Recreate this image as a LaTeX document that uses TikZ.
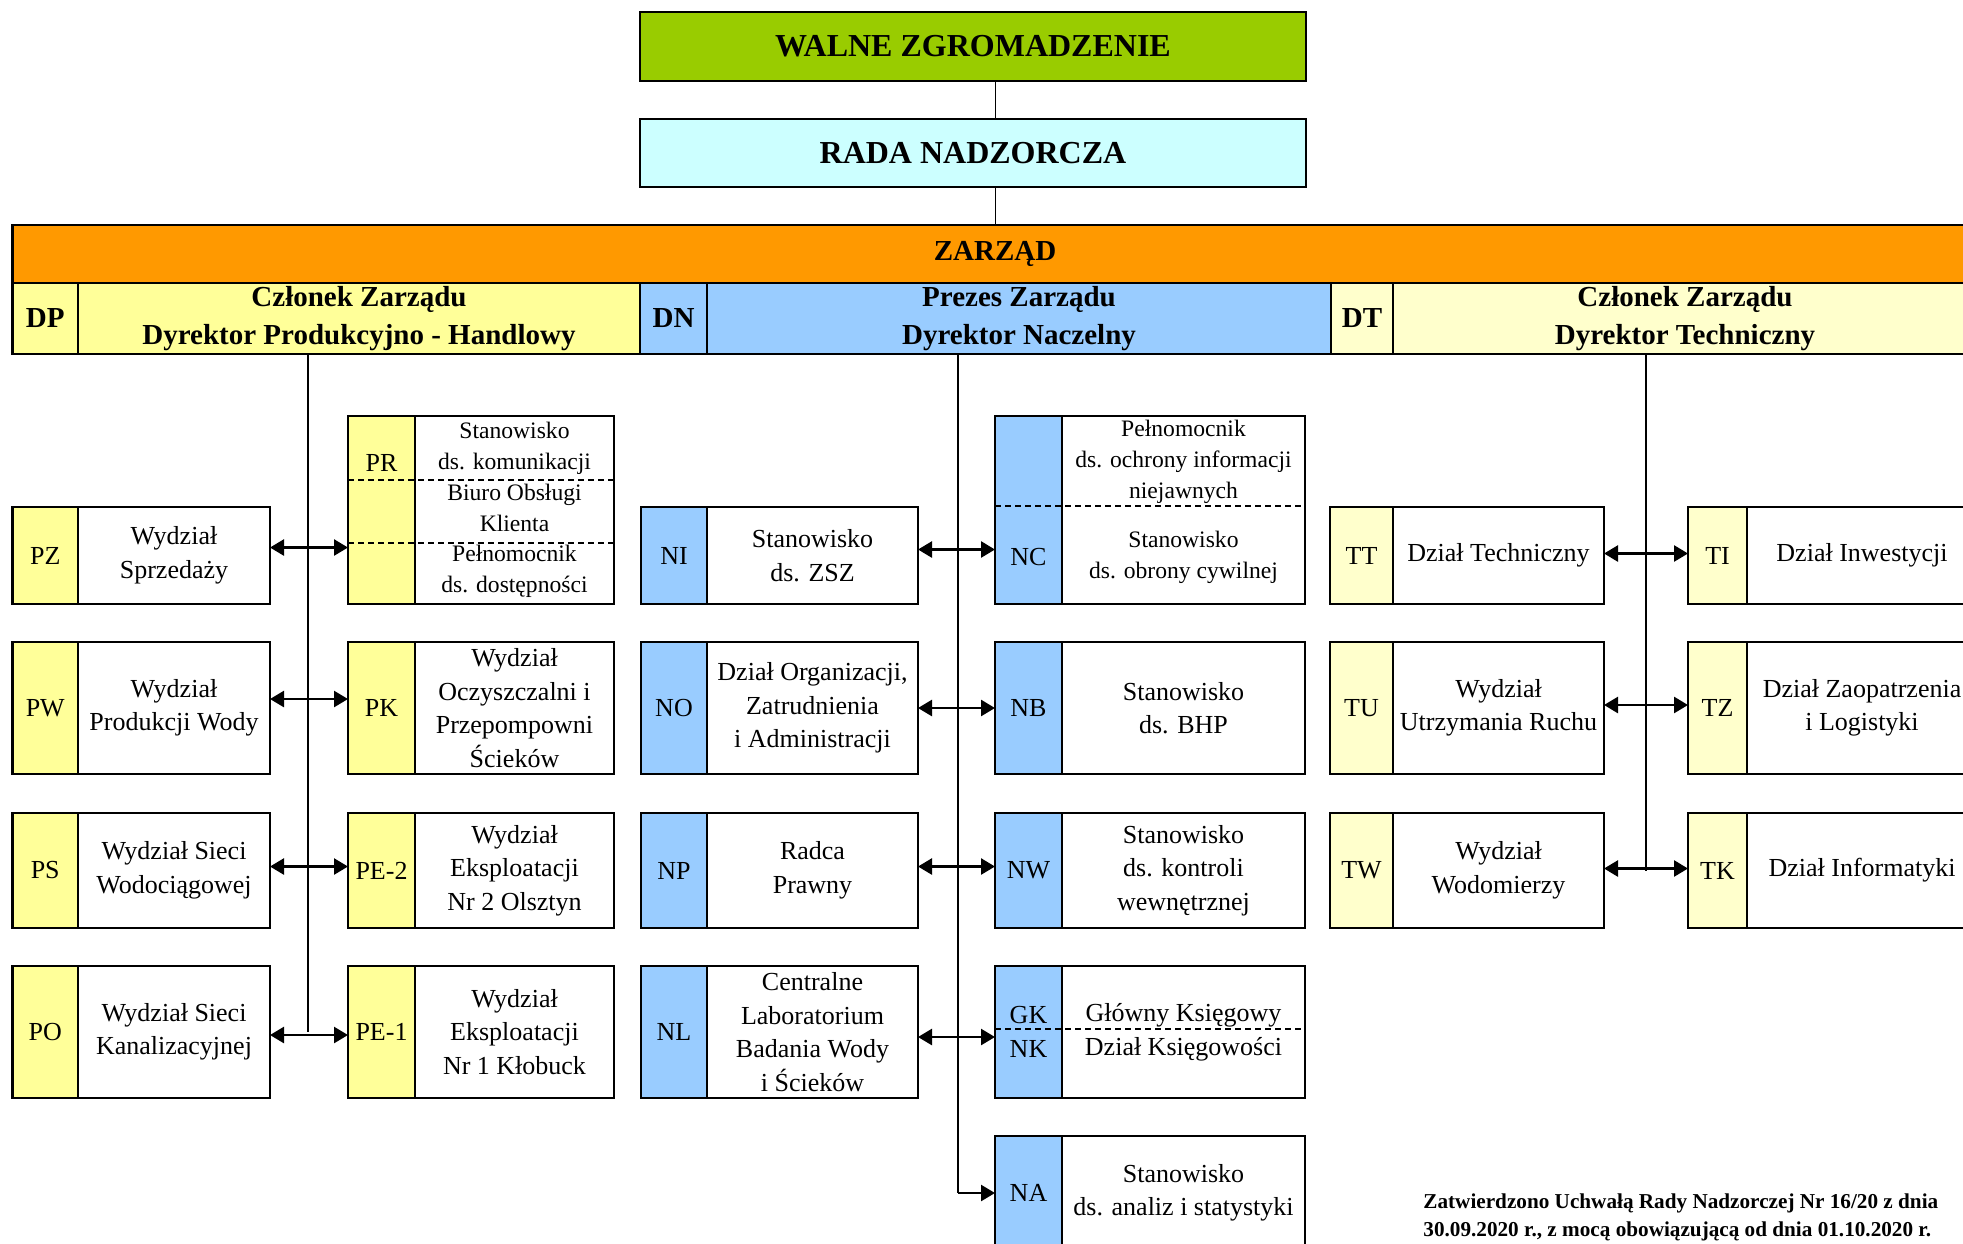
\documentclass[tikz,border=0pt]{standalone}
\usepackage{fontspec}
\setmainfont{Liberation Serif}
\usetikzlibrary{arrows.meta}

\definecolor{greenWZ}{HTML}{99CC00}
\definecolor{cyanRN}{HTML}{CCFFFF}
\definecolor{orangeZ}{HTML}{FF9900}
\definecolor{yellowP}{HTML}{FFFF99}
\definecolor{blueN}{HTML}{99CCFF}
\definecolor{yellowT}{HTML}{FFFFCC}

\begin{document}
\begin{tikzpicture}[x=0.5pt, y=-0.5pt,
    box/.style={draw, line width=1.4pt, inner sep=0pt, outer sep=0pt, anchor=north west, align=center},
    codecell/.style={box, font=\fontsize{13pt}{16.75pt}\selectfont},
    textcell/.style={box, fill=white, font=\fontsize{13pt}{16.75pt}\selectfont},
    smalltext/.style={align=center, inner sep=0pt, font=\fontsize{11.8pt}{15.4pt}\selectfont},
    headcell/.style={box, font=\bfseries\fontsize{14.5pt}{19pt}\selectfont},
    topcell/.style={box, font=\bfseries\fontsize{16pt}{19pt}\selectfont},
    biarrow/.style={{Triangle[length=7pt,width=8pt]}-{Triangle[length=7pt,width=8pt]}, line width=1.3pt},
    arrowto/.style={-{Triangle[length=7pt,width=8pt]}, line width=1.3pt},
    trunkline/.style={line width=0.65pt},
    dashsep/.style={line width=0.8pt, dash pattern=on 3pt off 2pt}]

% ===== Page and units =====
\def\px{0.5pt}       % one pixel of the original
\useasboundingbox (0,0) rectangle (1963,1243);
\clip (0,0) rectangle (1963,1243);

% ===== Governing bodies =====
\node[topcell, fill=greenWZ, minimum width=666*\px, minimum height=69*\px] (WZ) at (640,12) {WALNE ZGROMADZENIE};
\node[topcell, fill=cyanRN, minimum width=666*\px, minimum height=68*\px] (RN) at (640,119) {RADA NADZORCZA};
\node[headcell, fill=orangeZ, minimum width=1965*\px, minimum height=58*\px] (ZA) at (12.5,225) {ZARZĄD};

\draw[line width=0.5pt] (WZ.south -| ZA.north) -- (RN.north -| ZA.north);
\draw[line width=0.5pt] (RN.south -| ZA.north) -- (ZA.north);

% ===== Board members =====
\node[headcell, fill=yellowP, minimum width=65.5*\px, minimum height=71*\px] (DP) at (12.5,283) {DP};
\node[headcell, fill=yellowP, minimum width=562*\px, minimum height=71*\px] (DP-t) at (DP.north east) {Członek Zarządu\\Dyrektor Produkcyjno - Handlowy};
\node[headcell, fill=blueN, minimum width=67*\px, minimum height=71*\px] (DN) at (DP-t.north east) {DN};
\node[headcell, fill=blueN, minimum width=624*\px, minimum height=71*\px] (DN-t) at (DN.north east) {Prezes Zarządu\\Dyrektor Naczelny};
\node[headcell, fill=yellowT, minimum width=62*\px, minimum height=71*\px] (DT) at (DN-t.north east) {DT};
\node[headcell, fill=yellowT, minimum width=584*\px, minimum height=71*\px] (DT-t) at (DT.north east) {Członek Zarządu\\Dyrektor Techniczny};

% ===== DP branch =====
\foreach \id/\y/\h/\name in {PZ/507/97/{Wydział\\Sprzedaży},
    PW/642/132/{Wydział\\Produkcji Wody},
    PS/813/115/{Wydział Sieci\\Wodociągowej},
    PO/966/132/{Wydział Sieci\\Kanalizacyjnej}} {
  \node[codecell, fill=yellowP, minimum width=65.5*\px, minimum height=\h*\px] (\id) at (12.5,\y) {\id};
  \node[textcell, minimum width=192*\px, minimum height=\h*\px] (\id-t) at (\id.north east) {\name};
}
\foreach \id/\y/\h/\name in {PK/642/132/{Wydział\\Oczyszczalni i\\Przepompowni\\Ścieków},
    PE-2/813/115/{Wydział\\Eksploatacji\\Nr 2 Olsztyn},
    PE-1/966/132/{Wydział\\Eksploatacji\\Nr 1 Kłobuck}} {
  \node[codecell, fill=yellowP, minimum width=67*\px, minimum height=\h*\px] (\id) at (348,\y) {\id};
  \node[textcell, minimum width=199*\px, minimum height=\h*\px] (\id-t) at (\id.north east) {\name};
}
% split box PR
\node[codecell, fill=yellowP, minimum width=67*\px, minimum height=188*\px] (PR) at (348,416) {};
\node[textcell, minimum width=199*\px, minimum height=188*\px, font=\fontsize{11.8pt}{15.4pt}\selectfont] (PR-t) at (PR.north east)
  {Stanowisko\\ds. komunikacji\\Biuro Obsługi\\Klienta\\Pełnomocnik\\ds. dostępności};
\node[codecell, draw=none, anchor=center] (PR-l) at (381.5,463) {PR};
\coordinate (PR-cut1) at (348,480);
\coordinate (PR-cut2) at (348,543);
\draw[dashsep] (PR-cut1) -- (PR-cut1 -| PR-t.east);
\draw[dashsep] (PR-cut2) -- (PR-cut2 -| PR-t.east);

% ===== DN branch =====
\foreach \id/\y/\h/\name in {NI/507/97/{Stanowisko\\ds. ZSZ},
    NO/642/132/{Dział Organizacji,\\Zatrudnienia\\i Administracji},
    NP/813/115/{Radca\\Prawny},
    NL/966/132/{Centralne\\Laboratorium\\Badania Wody\\i Ścieków}} {
  \node[codecell, fill=blueN, minimum width=66*\px, minimum height=\h*\px] (\id) at (641,\y) {\id};
  \node[textcell, minimum width=211*\px, minimum height=\h*\px] (\id-t) at (\id.north east) {\name};
}
\foreach \id/\lab/\y/\h/\name in {NB/NB/642/132/{Stanowisko\\ds. BHP},
    NW/NW/813/115/{Stanowisko\\ds. kontroli\\wewnętrznej},
    GK/{GK\\NK}/966/132/{Główny Księgowy\\Dział Księgowości},
    NA/NA/1136/114/{Stanowisko\\ds. analiz i statystyki}} {
  \node[codecell, fill=blueN, minimum width=67*\px, minimum height=\h*\px] (\id) at (995,\y) {\lab};
  \node[textcell, minimum width=243*\px, minimum height=\h*\px] (\id-t) at (\id.north east) {\name};
}
\coordinate (GK-cut) at (995,1029);
\draw[dashsep] (GK-cut) -- (GK-cut -| GK-t.east);
% split box NC
\node[codecell, fill=blueN, minimum width=67*\px, minimum height=188*\px] (NC) at (995,416) {};
\node[textcell, minimum width=243*\px, minimum height=188*\px] (NC-t) at (NC.north east) {};
\node[codecell, draw=none, anchor=center] (NC-l) at (1028.5,557) {NC};
\node[smalltext] (NC-a) at (1183.5,462) {Pełnomocnik\\ds. ochrony informacji\\niejawnych};
\node[smalltext] (NC-b) at (1183.5,557) {Stanowisko\\ds. obrony cywilnej};
\coordinate (NC-cut) at (995,506);
\draw[dashsep] (NC-cut) -- (NC-cut -| NC-t.east);

% ===== DT branch =====
\foreach \id/\y/\h/\name in {TT/507/97/{Dział Techniczny},
    TU/642/132/{Wydział\\Utrzymania Ruchu},
    TW/813/115/{Wydział\\Wodomierzy}} {
  \node[codecell, fill=yellowT, minimum width=63*\px, minimum height=\h*\px] (\id) at (1330,\y) {\id};
  \node[textcell, minimum width=211*\px, minimum height=\h*\px] (\id-t) at (\id.north east) {\name};
}
\foreach \id/\y/\h/\name in {TI/507/97/{Dział Inwestycji},
    TZ/642/132/{Dział Zaopatrzenia\\i Logistyki},
    TK/813/115/{Dział Informatyki}} {
  \node[codecell, fill=yellowT, minimum width=59*\px, minimum height=\h*\px] (\id) at (1688,\y) {\id};
  \node[textcell, minimum width=230*\px, minimum height=\h*\px] (\id-t) at (\id.north east) {\name};
}

% ===== Connections =====
\coordinate (P-top) at (308,354);
\coordinate (N-top) at (958,354);
\coordinate (T-top) at (1646,354);
\draw[trunkline] (P-top) -- (P-top |- PO-t.east);
\draw[trunkline] (N-top) -- (N-top |- NA.west);
\draw[trunkline] (T-top) -- (T-top |- TW-t.east);
% \up = how far the arrow sits above the box middle (pixels)
\foreach \a/\b/\up in {PZ/PR/8, PW/PK/9, PS/PE-2/4, PO/PE-1/-3, NI/NC/6, NO/NB/0, NP/NW/4, NL/GK/-5, TT/TI/2, TU/TZ/3, TW/TK/2}
  \draw[biarrow] ([yshift=\up*\px]\a-t.east) -- ([yshift=\up*\px]\a-t.east -| \b.west);
\draw[arrowto] (N-top |- NA.west) -- (NA.west);

% ===== Note =====
\node[anchor=north west, align=left, inner sep=0pt, font=\bfseries\fontsize{10.6pt}{14pt}\selectfont] (note) at (1423,1193)
  {Zatwierdzono Uchwałą Rady Nadzorczej Nr 16/20 z dnia\\30.09.2020 r., z mocą obowiązującą od dnia 01.10.2020 r.};

\end{tikzpicture}
\end{document}
